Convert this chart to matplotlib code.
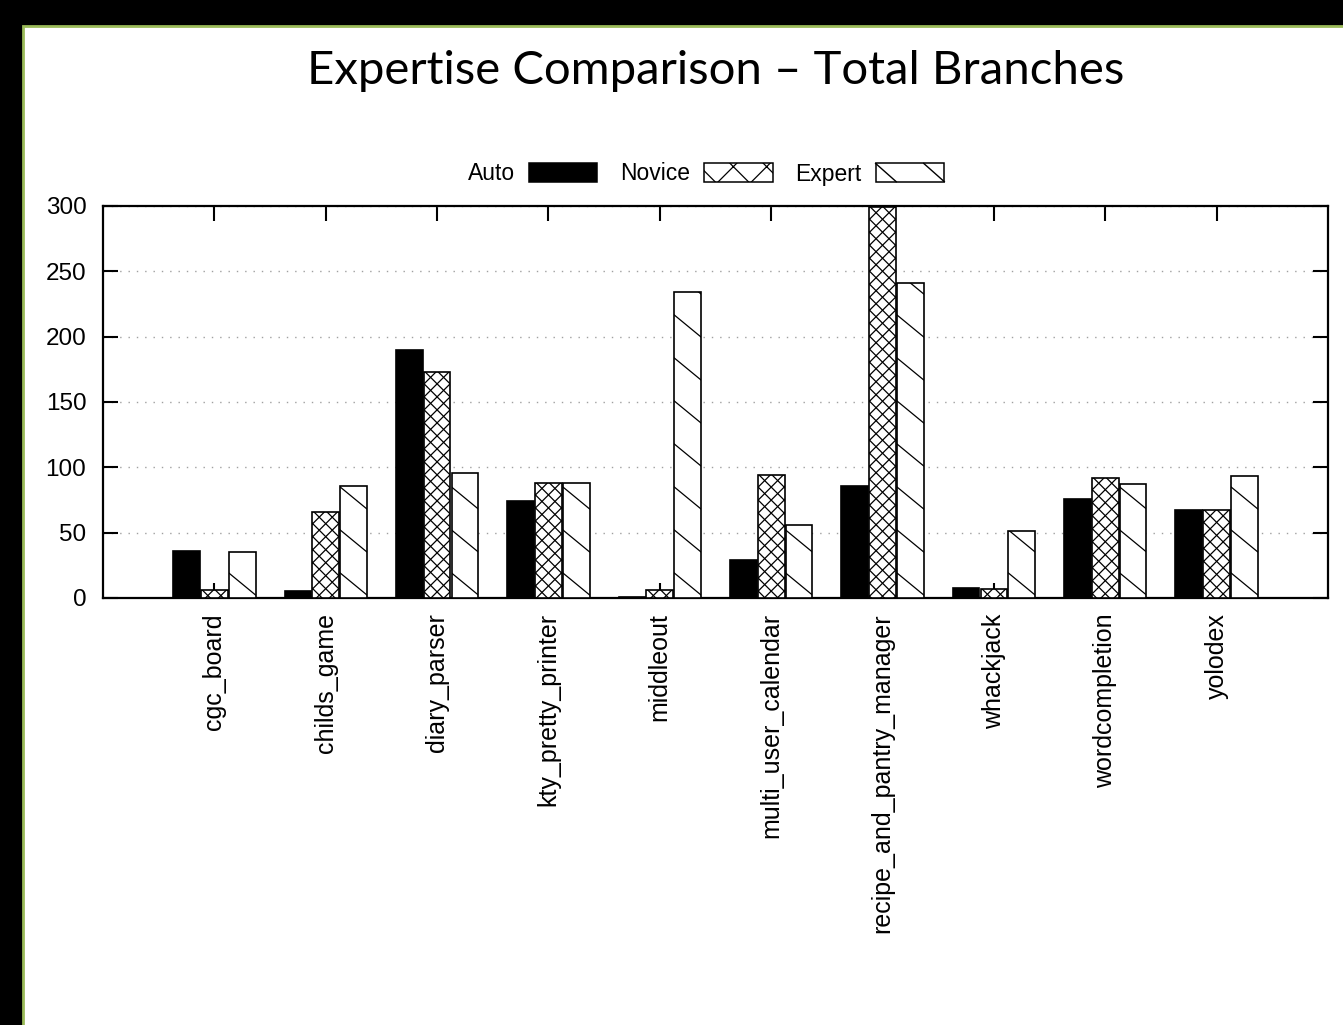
import matplotlib
matplotlib.use("Agg")
import matplotlib.pyplot as plt
import numpy as np
from matplotlib.patches import Rectangle, Patch
from matplotlib.lines import Line2D
from matplotlib.legend_handler import HandlerBase

categories = ['cgc_board', 'childs_game', 'diary_parser', 'kty_pretty_printer',
              'middleout', 'multi_user_calendar', 'recipe_and_pantry_manager',
              'whackjack', 'wordcompletion', 'yolodex']
auto = [36, 5, 190, 74, 1, 29, 86, 8, 76, 67]
novice = [6, 66, 173, 88, 6, 94, 299, 7, 92, 67]
expert = [35, 86, 96, 88, 234, 56, 241, 51, 87, 93]
series_names = ['Auto', 'Novice', 'Expert']

BAR_W = 0.24
STRIPE_STEP = 43   # px between expert stripes (vertical)
STRIPE_DROP = 22   # px drop of one stripe across the bar
CROSS_STEP = 13    # px between novice cross lines

plt.rcParams['font.family'] = ['Liberation Sans', 'DejaVu Sans']
plt.rcParams['hatch.linewidth'] = 0.9


class StripeHandler(HandlerBase):
    # legend sample for the sparse diagonal stripes
    def create_artists(self, legend, orig_handle, xdescent, ydescent,
                       width, height, fontsize, trans):
        x0, y0 = -xdescent, -ydescent
        arts = [Rectangle((x0, y0), width, height, fc='white', ec='black',
                          lw=1.1, transform=trans)]
        for fx in (0.0, 0.70):
            arts.append(Line2D([x0 + fx * width, x0 + (fx + 0.30) * width],
                               [y0 + height, y0], color='black', lw=1.0,
                               transform=trans))
        return arts


def add_lines(ax, bar, segs):
    # segs are in pixels, turn them into data coords and clip to the bar
    inv = ax.transData.inverted()
    for p, q in segs:
        (xa, ya), (xb, yb) = inv.transform([p, q])
        ln, = ax.plot([xa, xb], [ya, yb], color='black', lw=0.9, zorder=3.5)
        ln.set_clip_path(bar)


fig = plt.figure(figsize=(13.43, 10.25), dpi=100, facecolor='black')
# slide background
fig.add_artist(Rectangle((23 / 1343, -0.1), 1.1, 1.1 - 26 / 1025,
                         transform=fig.transFigure, fc='white',
                         ec='#9bbb59', lw=2, zorder=-10))

fig.text(716 / 1343, 1 - 84 / 1025, 'Expertise Comparison – Total Branches',
         family=['Lato', 'DejaVu Sans'], fontsize=34, ha='center',
         va='baseline', color='black')

ax = fig.add_axes([103 / 1343, 1 - 598 / 1025, 1225 / 1343, 392 / 1025])
x = np.arange(len(categories))
ax.set_xlim(-1, 10)
ax.set_ylim(0, 300)

ax.bar(x - 0.25, auto, BAR_W, color='black', edgecolor='black', lw=1.2,
       zorder=3)
nov_bars = ax.bar(x, novice, BAR_W, color='white', edgecolor='black', lw=1.2,
                  zorder=3)
ex_bars = ax.bar(x + 0.25, expert, BAR_W, color='white', edgecolor='black',
                 lw=1.2, zorder=3)

for b in nov_bars:
    (px0, py0), (px1, py1) = ax.transData.transform(
        [(b.get_x(), 0), (b.get_x() + b.get_width(), b.get_height())])
    L = (px1 - px0) + (py1 - py0) + 2 * CROSS_STEP
    segs = []
    for c in np.arange(-L, L, CROSS_STEP):
        segs.append(((px0 + c, py0), (px0 + c + L, py0 + L)))
        segs.append(((px1 - c, py0), (px1 - c - L, py0 + L)))
    add_lines(ax, b, segs)

for b in ex_bars:
    (px0, py0), (px1, py1) = ax.transData.transform(
        [(b.get_x(), 0), (b.get_x() + b.get_width(), b.get_height())])
    segs = []
    y = py0 + 3
    while y < py1 + STRIPE_STEP:
        segs.append(((px0, y + STRIPE_DROP), (px1, y)))
        y += STRIPE_STEP
    add_lines(ax, b, segs)

ax.set_yticks(np.arange(0, 301, 50))
ax.set_xticks(x)
ax.set_xticklabels(categories, rotation=90, fontsize=18, va='top',
                   ha='center')
ax.tick_params(axis='y', labelsize=17.5, direction='in', length=11,
               width=1.5, right=True, pad=12)
ax.tick_params(axis='x', direction='in', length=11, width=1.5, top=True,
               pad=11)
for s in ax.spines.values():
    s.set_linewidth(1.6)

ax.yaxis.grid(True, color='#a0a0a0', linestyle=(0, (1, 5)), lw=1.0)
ax.set_axisbelow(True)

handles = [Patch(fc='black', ec='black', lw=1.1),
           Patch(fc='white', ec='black', lw=1.1, hatch='x'),
           Patch(fc='white', ec='black')]
leg = fig.legend(handles, series_names, loc='center',
                 bbox_to_anchor=(706 / 1343, 1 - 174 / 1025), ncol=3,
                 frameon=False, markerfirst=False, fontsize=16.5,
                 handlelength=3.0, handleheight=0.85, handletextpad=0.6,
                 columnspacing=1.0, borderpad=0,
                 handler_map={handles[2]: StripeHandler()})

fig.savefig('out.png', dpi=100, facecolor=fig.get_facecolor())
